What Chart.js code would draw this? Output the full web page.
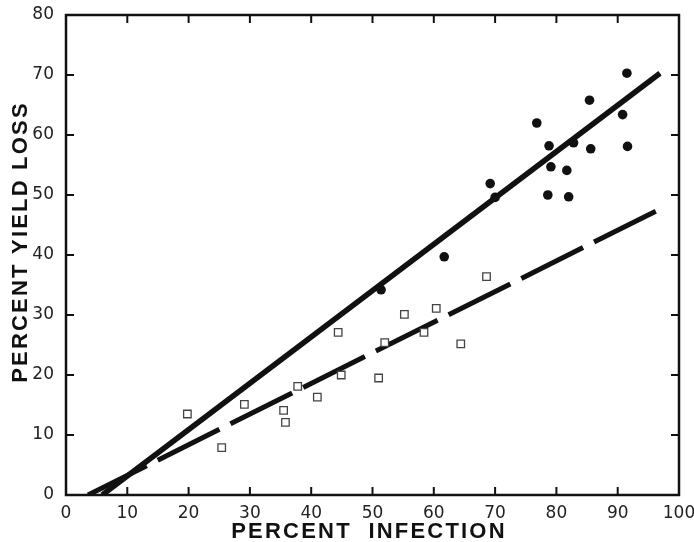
<!DOCTYPE html>
<html>
<head>
<meta charset="utf-8">
<script src="https://cdn.jsdelivr.net/npm/chart.js@4"></script>
<style>
  html, body { margin: 0; padding: 0; background: #fff; }
  #wrap { width: 694px; height: 542px; }
</style>
</head>
<body>
<div id="wrap"><canvas id="yieldChart"></canvas></div>
<script>
// Axes
const xTicks = [0, 10, 20, 30, 40, 50, 60, 70, 80, 90, 100];
const yTicks = [0, 10, 20, 30, 40, 50, 60, 70, 80];
const xTitle = 'PERCENT  INFECTION';
const yTitle = 'PERCENT YIELD LOSS';

// Filled circles
const circleX = [91.5, 85.4, 90.8, 76.8, 78.8, 82.8, 85.6, 91.6, 79.1, 81.7, 69.2, 70.0, 78.6, 82.0, 61.7, 51.4];
const circleY = [70.3, 65.8, 63.4, 62.0, 58.2, 58.7, 57.7, 58.1, 54.7, 54.1, 51.9, 49.6, 50.0, 49.7, 39.7, 34.2];

// Open squares
const squareX = [19.8, 25.4, 29.1, 35.5, 35.8, 37.8, 41.0, 44.4, 44.9, 51.0, 52.0, 55.2, 58.4, 60.4, 64.4, 68.6];
const squareY = [13.5, 7.9, 15.1, 14.1, 12.1, 18.1, 16.3, 27.1, 20.0, 19.5, 25.4, 30.1, 27.1, 31.1, 25.2, 36.4];

// Regression lines (end points)
const solidLineX = [5.9, 96.9];
const solidLineY = [0, 70.3];
const dashedLineX = [3.6, 96.4];
const dashedLineY = [0, 47.4];

const toPoints = (xs, ys) => xs.map((x, i) => ({ x: x, y: ys[i] }));

// Cadre + petites graduations vers l'intérieur
const framePlugin = {
  id: 'frame',
  afterDraw(chart) {
    const { ctx, chartArea: a, scales } = chart;
    ctx.save();
    ctx.strokeStyle = '#111';
    ctx.lineWidth = 2.5;
    ctx.strokeRect(a.left, a.top, a.right - a.left, a.bottom - a.top);

    ctx.lineWidth = 2;
    const len = 8;
    ctx.beginPath();
    xTicks.slice(1, -1).forEach(v => {
      const px = scales.x.getPixelForValue(v);
      ctx.moveTo(px, a.bottom); ctx.lineTo(px, a.bottom - len);
      ctx.moveTo(px, a.top); ctx.lineTo(px, a.top + len);
    });
    yTicks.slice(1, -1).forEach(v => {
      const py = scales.y.getPixelForValue(v);
      ctx.moveTo(a.left, py); ctx.lineTo(a.left + len, py);
      ctx.moveTo(a.right, py); ctx.lineTo(a.right - len, py);
    });
    ctx.stroke();

    // Titres des axes (avec espacement des lettres)
    ctx.fillStyle = '#111';
    ctx.font = 'bold 22px "Liberation Sans", Arial, sans-serif';
    ctx.letterSpacing = '2.2px';
    ctx.textAlign = 'center';
    ctx.textBaseline = 'middle';
    ctx.fillText(xTitle, 369, 532);
    ctx.translate(21, 242);
    ctx.rotate(-Math.PI / 2);
    ctx.fillText(yTitle, 0, 0);
    ctx.restore();
  }
};

new Chart(document.getElementById('yieldChart'), {
  type: 'scatter',
  data: {
    datasets: [
      {
        label: 'circles',
        data: toPoints(circleX, circleY),
        pointStyle: 'circle',
        pointRadius: 4.8,
        pointBackgroundColor: '#111',
        pointBorderWidth: 0
      },
      {
        label: 'squares',
        data: toPoints(squareX, squareY),
        pointStyle: 'rect',
        pointRadius: 5.3,
        pointBackgroundColor: '#fff',
        pointBorderColor: '#444',
        pointBorderWidth: 1.3
      },
      {
        label: 'solid',
        data: toPoints(solidLineX, solidLineY),
        showLine: true,
        borderColor: '#111',
        borderWidth: 5.5,
        pointRadius: 0
      },
      {
        label: 'dashed',
        data: toPoints(dashedLineX, dashedLineY),
        showLine: true,
        borderColor: '#111',
        borderWidth: 5,
        borderDash: [69, 12.3],
        borderDashOffset: 3.4,
        pointRadius: 0
      }
    ]
  },
  options: {
    responsive: true,
    maintainAspectRatio: false,
    animation: false,
    layout: { padding: { top: 15, right: 15, left: 0, bottom: 0 } },
    plugins: {
      legend: { display: false },
      tooltip: { enabled: false }
    },
    scales: {
      x: {
        type: 'linear',
        min: 0,
        max: 100,
        afterBuildTicks: s => { s.ticks = xTicks.map(v => ({ value: v })); },
        afterFit: s => { s.height = 47; s.paddingLeft = 0; s.paddingRight = 0; },
        grid: { display: false },
        border: { display: false },
        ticks: {
          color: '#222',
          padding: 0,
          font: { family: '"DejaVu Sans", sans-serif', size: 17 }
        }
      },
      y: {
        type: 'linear',
        min: 0,
        max: 80,
        afterBuildTicks: s => { s.ticks = yTicks.map(v => ({ value: v })); },
        afterFit: s => { s.width = 66; s.paddingTop = 0; s.paddingBottom = 0; },
        grid: { display: false },
        border: { display: false },
        ticks: {
          color: '#222',
          padding: 4,
          font: { family: '"DejaVu Sans", sans-serif', size: 17 }
        }
      }
    }
  },
  plugins: [framePlugin]
});
</script>
</body>
</html>
